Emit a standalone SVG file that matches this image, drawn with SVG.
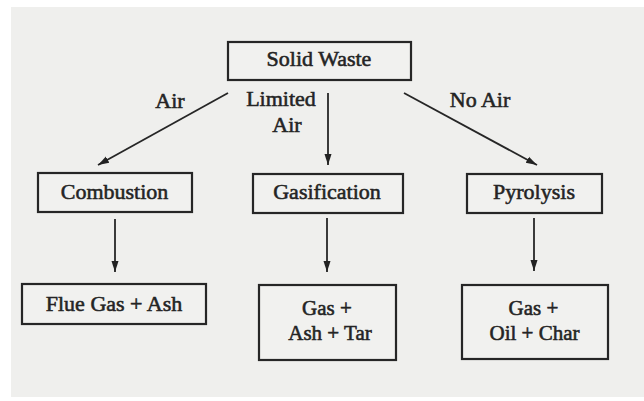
<svg xmlns="http://www.w3.org/2000/svg" width="644" height="401" viewBox="0 0 644 401">
<defs>
<marker id="ah" markerUnits="userSpaceOnUse" markerWidth="12" markerHeight="9" refX="11" refY="4.5" orient="auto">
<path d="M0,1 L11,4.5 L0,8 Z" fill="#222"/>
</marker>
<style>
.box{fill:#f1f1ef;stroke:#262626;stroke-width:2.2}
.t{font-family:'Liberation Serif','DejaVu Serif',serif;font-size:22px;fill:#242424;text-anchor:middle;stroke:#242424;stroke-width:0.55}
.s{font-size:21px}
.c{stroke:#262626;stroke-width:1.8;fill:none;marker-end:url(#ah)}
</style>
</defs>
<rect width="644" height="401" fill="#ffffff"/>
<rect x="11" y="7" width="633" height="390" fill="#efefed"/>
<g id="connectors">
<line class="c" x1="228" y1="93" x2="98" y2="165"/>
<line class="c" x1="328" y1="93" x2="328" y2="165"/>
<line class="c" x1="404" y1="93" x2="537" y2="165"/>
<line class="c" x1="115" y1="219" x2="115" y2="272"/>
<line class="c" x1="327" y1="218" x2="327" y2="272"/>
<line class="c" x1="534" y1="218" x2="534" y2="271"/>
<text class="t" x="170" y="108">Air</text>
<text class="t" x="281" y="106">Limited</text>
<text class="t" x="287" y="132">Air</text>
<text class="t" x="480" y="107">No Air</text>
</g>
<g id="solid-waste">
<rect class="box" x="228" y="42" width="183" height="38"/>
<text class="t" x="319" y="66">Solid Waste</text>
</g>
<g id="combustion">
<rect class="box" x="38" y="173" width="154" height="39"/>
<text class="t" x="114.5" y="199">Combustion</text>
</g>
<g id="gasification">
<rect class="box" x="253" y="174" width="150" height="39"/>
<text class="t" x="327" y="199">Gasification</text>
</g>
<g id="pyrolysis">
<rect class="box" x="467" y="174" width="135" height="39"/>
<text class="t" x="534" y="199">Pyrolysis</text>
</g>
<g id="flue-gas-ash">
<rect class="box" x="22" y="284" width="184" height="40"/>
<text class="t" x="114" y="311">Flue Gas + Ash</text>
</g>
<g id="gas-ash-tar">
<rect class="box" x="259" y="285" width="137" height="75"/>
<text class="t s" x="327" y="315">Gas +</text>
<text class="t s" x="330" y="340">Ash + Tar</text>
</g>
<g id="gas-oil-char">
<rect class="box" x="462" y="285" width="146" height="74"/>
<text class="t s" x="533.5" y="315">Gas +</text>
<text class="t s" x="534.5" y="340">Oil + Char</text>
</g>
</svg>
